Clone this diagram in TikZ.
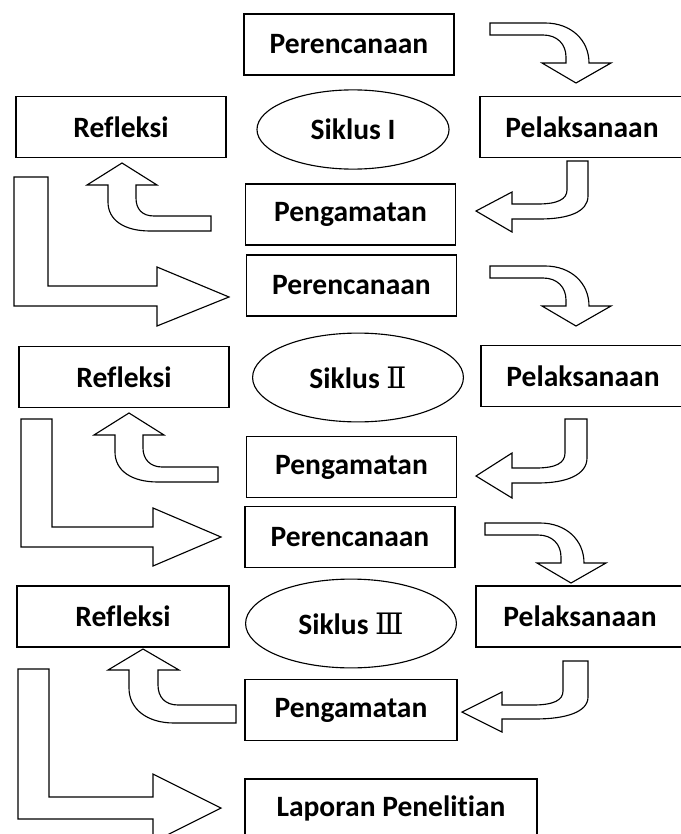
\documentclass[tikz,border=0pt]{standalone}
\usepackage{fontspec}
\setmainfont{Carlito}[Ligatures=NoCommon]
\newfontfamily\romfont{DejaVu Serif}
\usetikzlibrary{shapes.geometric}
\tikzset{
	box/.style={draw=black, line width=1.1pt, rectangle, inner sep=0pt, minimum width=5.25cm, minimum height=1.52cm, font=\fontsize{21}{25}\selectfont\bfseries},
	siklus/.style={draw=black, line width=0.8pt, ellipse, inner sep=0pt, minimum width=5.27cm, minimum height=2.22cm, font=\fontsize{21}{25}\selectfont\bfseries},
	blok/.style={draw=black, fill=white, line width=0.8pt, line join=miter}
}
\begin{document}
\begin{tikzpicture}[x=0.025cm, y=-0.025cm]
		\useasboundingbox (0,0) rectangle (680,834);
		\node [box] (per1) at (349,44.5) {Perencanaan};
		\node [box] (ref1) at (121,127) {Refleksi};
		\node [siklus, minimum width=4.8cm, minimum height=1.98cm] (sik1) at (353,129.5) {Siklus I};
		\node [box, minimum width=5.1cm] (pel1) at (582,127) {Pelaksanaan};
		\node [box] (pen1) at (350.5,214.5) {Pengamatan};
		\node [box] (per2) at (351.5,285.5) {Perencanaan};
		\node [box] (ref2) at (124,377) {Refleksi};
		\node [siklus] (sik2) at (358,377.5) {Siklus {\romfont\mdseries Ⅱ}};
		\node [box, minimum width=5.1cm] (pel2) at (583,376) {Pelaksanaan};
		\node [box] (pen2) at (351.5,467) {Pengamatan};
		\node [box] (per3) at (350,537) {Perencanaan};
		\node [box, minimum width=5.3cm] (ref3) at (123,616.5) {Refleksi};
		\node [siklus] (sik3) at (351,623.5) {Siklus {\romfont\mdseries Ⅲ}};
		\node [box, minimum width=5.2cm] (pel3) at (580,616.5) {Pelaksanaan};
		\node [box, minimum width=5.3cm] (pen3) at (351,710) {Pengamatan};
		\node [box, minimum width=7.3cm, minimum height=1.45cm] (lap) at (391,808) {Laporan Penelitian};
		\draw [blok] (490,23) -- (545,23) .. controls (571,23) and (589,40) .. (589,63) -- (611,63) -- (576,83) -- (542,63) -- (566,63) -- (566,57) .. controls (566,44) and (557,35) .. (543,35) -- (490,35) -- cycle;
		\draw [blok] (490,266) -- (545,266) .. controls (571,266) and (589,283) .. (589,306) -- (611,306) -- (576,326) -- (542,306) -- (566,306) -- (566,300) .. controls (566,287) and (557,278) .. (543,278) -- (490,278) -- cycle;
		\draw [blok] (485,523) -- (540,523) .. controls (566,523) and (584,540) .. (584,563) -- (606,563) -- (571,583) -- (537,563) -- (561,563) -- (561,557) .. controls (561,544) and (552,535) .. (538,535) -- (485,535) -- cycle;
		\draw [blok] (567,161) -- (588,161) -- (588,196) .. controls (588,212) and (568,219) .. (540,219) -- (512,219) -- (512,232) -- (476,211) -- (512,192) -- (512,204) -- (538,204) .. controls (558,204) and (567,199) .. (567,190) -- cycle;
		\draw [blok] (565,419) -- (587,419) -- (587,458) .. controls (587,475) and (566,483) .. (538,483) -- (512,483) -- (512,498) -- (476,476) -- (512,453) -- (512,468) -- (536,468) .. controls (556,468) and (565,463) .. (565,453) -- cycle;
		\draw [blok] (563,661) -- (588,661) -- (588,697) .. controls (588,712) and (566,719) .. (535,719) -- (502,719) -- (502,732) -- (462,712) -- (502,692) -- (502,705) -- (533,705) .. controls (554,705) and (563,700) .. (563,691) -- cycle;
		\draw [blok] (211,216) -- (154,216) .. controls (142,216) and (136,209) .. (136,198) -- (136,185) -- (157,185) -- (122,163) -- (87,185) -- (108,185) -- (108,202) .. controls (108,220) and (124,231) .. (150,231) -- (211,231) -- cycle;
		\draw [blok] (218,467) -- (162,467) .. controls (150,467) and (143,459) .. (143,448) -- (143,435) -- (164,435) -- (129,413) -- (94,435) -- (115,435) -- (115,452) .. controls (115,471) and (132,482) .. (158,482) -- (218,482) -- cycle;
		\draw [blok] (236,705) -- (178,705) .. controls (165,705) and (158,697) .. (158,685) -- (158,670) -- (179,670) -- (143,649) -- (108,670) -- (129,670) -- (129,688) .. controls (129,709) and (147,723) .. (174,723) -- (236,723) -- cycle;
		\draw [blok] (14,177) -- (48,177) -- (48,286) -- (157,286) -- (157,267) -- (229,297) -- (157,326) -- (157,306) -- (14,306) -- cycle;
		\draw [blok] (21,419) -- (52,419) -- (52,527) -- (153,527) -- (153,508) -- (221,537) -- (153,566) -- (153,547) -- (21,547) -- cycle;
		\draw [blok] (18,669) -- (49,669) -- (49,797) -- (153,797) -- (153,774) -- (221,808) -- (153,842) -- (153,819) -- (18,819) -- cycle;
\end{tikzpicture}
\end{document}
